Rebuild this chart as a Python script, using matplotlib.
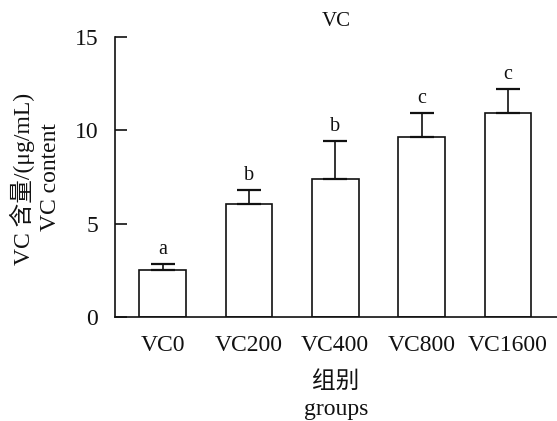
"""
VC content bar chart with one-sided error bars and significance letters.
"""

import matplotlib
matplotlib.use('Agg')
import matplotlib.pyplot as plt
import numpy as np

plt.rcParams['font.family'] = ['Liberation Serif', 'Noto Sans CJK SC', 'DejaVu Sans']

# Data
groups = ['VC0', 'VC200', 'VC400', 'VC800', 'VC1600']
means = [2.5, 6.05, 7.4, 9.65, 10.95]
sds = [0.36, 0.75, 2.03, 1.28, 1.27]
letters = ['a', 'b', 'b', 'c', 'c']

TEXT_COLOR = '#111111'
LINE_COLOR = '#111111'
FS = 17

fig = plt.figure(figsize=(5.57, 4.21), dpi=100)
ax = fig.add_axes([115 / 557, 1 - 317 / 421, 442 / 557, 280 / 421])

x = np.arange(len(groups))
ax.bar(x, means, width=0.54, color='white', edgecolor=LINE_COLOR, linewidth=1.2, zorder=2)
ax.errorbar(x, means, yerr=[np.zeros(len(sds)), sds], fmt='none', ecolor=LINE_COLOR,
            elinewidth=1.2, capsize=8.3, capthick=1.6, zorder=3)

# significance letters above the caps
for xi, m, s, lab in zip(x, means, sds, letters):
    ax.annotate(lab, (xi, m + s), xytext=(0, 7), textcoords='offset points',
                ha='center', va='baseline', fontsize=14.5, color=TEXT_COLOR)

ax.set_xlim(-0.55, 4.567)
ax.set_ylim(0, 15)
ax.set_yticks([0, 5, 10, 15])
ax.set_xticks(x)
ax.set_xticklabels(groups)

for side in ['top', 'right']:
    ax.spines[side].set_visible(False)
for side in ['left', 'bottom']:
    ax.spines[side].set_linewidth(1.2)
    ax.spines[side].set_color(LINE_COLOR)

ax.tick_params(axis='y', direction='in', length=8.6, width=1.2, pad=12,
               labelsize=FS, colors=TEXT_COLOR)
ax.tick_params(axis='x', length=0, pad=13, labelsize=FS, colors=TEXT_COLOR)

# titles and axis labels as figure text
fig.text(336 / 557, 1 - 22 / 421, 'VC', ha='center', va='center', fontsize=15, color=TEXT_COLOR)
fig.text(336 / 557, 1 - 382 / 421, '组别', ha='center', va='center', fontsize=FS, color=TEXT_COLOR)
fig.text(336 / 557, 1 - 410 / 421, 'groups', ha='center', va='center', fontsize=FS, color=TEXT_COLOR)
fig.text(22 / 557, 1 - 179 / 421, 'VC 含量/(μg/mL)', ha='center', va='center', rotation=90,
         fontsize=FS, color=TEXT_COLOR)
fig.text(51 / 557, 1 - 177 / 421, 'VC content', ha='center', va='center', rotation=90,
         fontsize=FS, color=TEXT_COLOR)

fig.savefig('out.png', dpi=100, facecolor='white')
plt.close(fig)
